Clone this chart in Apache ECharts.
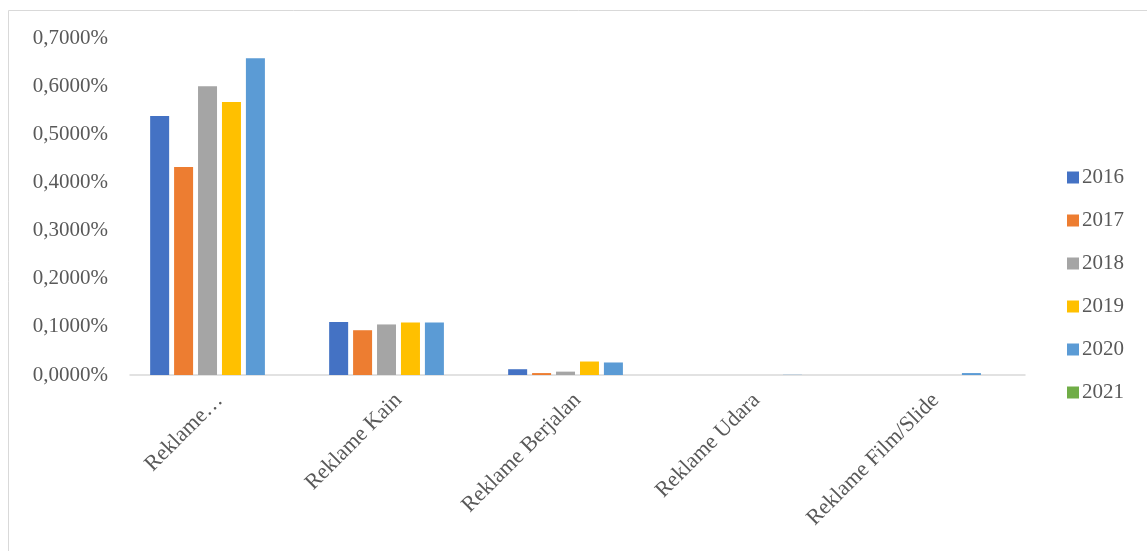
<!DOCTYPE html>
<html>
<head>
<meta charset="utf-8">
<script src="https://cdn.jsdelivr.net/npm/echarts@6/dist/echarts.min.js"></script>
<style>html,body{margin:0;padding:0;background:#fff;}#c{width:1147px;height:551px;}</style>
</head>
<body>
<div id="c"></div>
<script>
var categories = ["Reklame…", "Reklame Kain", "Reklame Berjalan", "Reklame Udara", "Reklame Film/Slide"];
var years = ["2016", "2017", "2018", "2019", "2020", "2021"];
var v2016 = [0.538, 0.110, 0.012, 0, 0];
var v2017 = [0.432, 0.093, 0.004, 0, 0];
var v2018 = [0.600, 0.105, 0.007, 0, 0];
var v2019 = [0.567, 0.109, 0.028, 0, 0];
var v2020 = [0.658, 0.109, 0.026, 0.0004, 0.004];
var v2021 = [0, 0, 0, 0, 0];
var yTicks = [0, 0.1, 0.2, 0.3, 0.4, 0.5, 0.6, 0.7];
var colors = ["#4472C4", "#ED7D31", "#A5A5A5", "#FFC000", "#5B9BD5", "#70AD47"];
var allValues = [v2016, v2017, v2018, v2019, v2020, v2021];

var font = "'Liberation Serif', 'DejaVu Serif', serif";
var chart = echarts.init(document.getElementById('c'), null, {renderer: 'canvas'});
var series = years.map(function (y, i) {
  return {
    name: y, type: 'bar', data: allValues[i], barWidth: 19, barGap: '26%',
    itemStyle: {color: colors[i]}, silent: true
  };
});
chart.setOption({
  animation: false,
  color: colors,
  textStyle: {fontFamily: font},
  graphic: [{
    type: 'rect', shape: {x: 8.5, y: 10.5, width: 1200, height: 600},
    style: {fill: 'none', stroke: '#d9d9d9', lineWidth: 1}, z: -1
  }],
  grid: {left: 130, right: 122, top: 38, bottom: 176, containLabel: false},
  legend: {
    orient: 'vertical', left: 1062, top: 162, itemWidth: 12, itemHeight: 12, itemGap: 22,
    icon: 'rect', data: years,
    textStyle: {fontFamily: font, fontSize: 21, color: '#595959', padding: [0, 0, 0, -2]}
  },
  xAxis: {
    type: 'category', data: categories,
    axisLine: {lineStyle: {color: '#d9d9d9', width: 1.5}},
    axisTick: {show: false},
    axisLabel: {rotate: 45, fontFamily: font, fontSize: 22, color: '#595959', margin: 22, interval: 0}
  },
  yAxis: {
    type: 'value', min: 0, max: 0.7, interval: 0.1,
    splitLine: {show: false}, axisLine: {show: false}, axisTick: {show: false},
    axisLabel: {
      fontFamily: font, fontSize: 21, color: '#595959', margin: 22,
      formatter: function (v) { return v.toFixed(4).replace('.', ',') + '%'; }
    }
  },
  series: series
});
</script>
</body>
</html>
